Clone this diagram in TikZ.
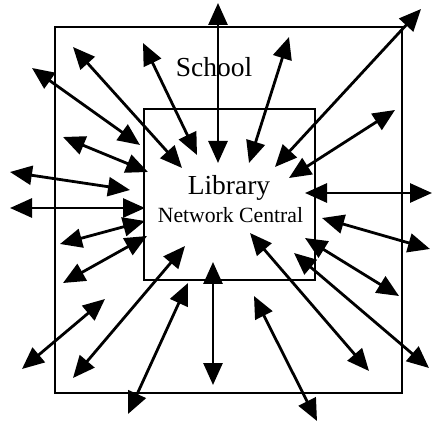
\documentclass[tikz,border=0pt]{standalone}
\usepackage{fontspec}
\setmainfont{Liberation Serif}
\usetikzlibrary{arrows.meta, positioning}
\tikzset{
  frame/.style={draw, line width=2.4pt, inner sep=0pt},
  arr/.style={{Triangle[length=22pt, width=19pt]}-{Triangle[length=22pt, width=19pt]}, line width=2.8pt},
  lbl/.style={inner sep=0pt, anchor=base},
}

\begin{document}
\begin{tikzpicture}[x=1pt, y=-1pt]
    \useasboundingbox (0,0) rectangle (434,422);
    \node[frame, minimum width=347pt, minimum height=366pt] (school) at (228.5,210) {};
    \node[frame, minimum width=171pt, minimum height=171pt] (library) at (229.5,194.5) {};
    \node[lbl, font=\fontsize{27.5}{30}\selectfont] (schooltxt) at (214,77) {School};
    \node[lbl, font=\fontsize{27.5}{30}\selectfont] (librarytxt) at (229,195) {Library};
    \node[lbl, font=\fontsize{21.7}{24}\selectfont] (central) at (230.5,223) {Network Central};
    % links between the library and the school
    \foreach \n/\xa/\ya/\xb/\yb in {
        1/32/68/140/145, 2/73/47/182/168, 3/143/43/197/155, 4/218/3/218/163,
        5/289/37/249/163, 6/421/9/275/167, 7/395/110/289/178, 8/305/193/432/193,
        9/10/172/130/190, 10/10/208/145/208, 11/63/137/148/172,
        12/60/244/145/221, 13/63/283/147/236, 14/22/369/105/299,
        15/73/378/185/246, 16/128/414/188/283, 17/213/262/213/385,
        18/322/218/430/249, 19/305/238/399/296, 20/294/253/429/368,
        21/250/233/369/371, 22/254/296/317/421} {
      \coordinate (s\n) at (\xa,\ya);
      \coordinate (e\n) at (\xb,\yb);
      \draw[arr] (s\n) -- (e\n);
    }
\end{tikzpicture}
\end{document}
